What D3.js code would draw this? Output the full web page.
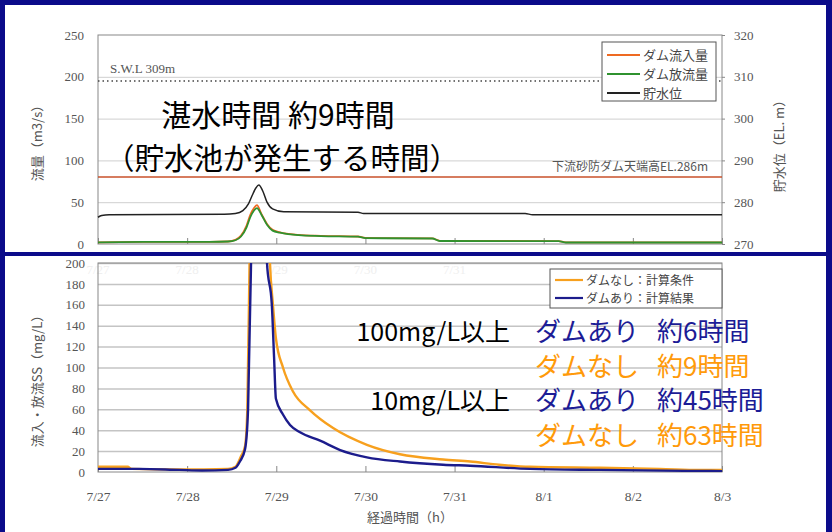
<!DOCTYPE html>
<html>
<head>
<meta charset="utf-8">
<script src="https://cdn.jsdelivr.net/npm/d3@7"></script>
<style>
  body { margin: 0; background: #0b0b8a; }
  svg { display: block; }
</style>
</head>
<body>
<svg width="832" height="532"></svg>
<script>
// x axis: hours from 7/27 0:00
var dayLabels = ["7/27", "7/28", "7/29", "7/30", "7/31", "8/1", "8/2", "8/3"];

// upper chart: dam flows (m3/s) and reservoir level (EL.m)
var flowHours = [0, 12, 30, 35, 37, 38.5, 40, 41, 42, 42.8, 44, 45.5, 47, 49, 54, 60, 70, 72, 90, 92, 124, 126, 168];
var inflow    = [2, 2.5, 2.5, 3, 5, 10, 22, 35, 43, 46.5, 36, 24, 17, 14, 11, 9.8, 9, 7.2, 6.8, 3.8, 3.5, 2, 2];
var outflow   = [2, 2.5, 2.5, 3, 4.5, 9, 20, 32, 40, 43, 35, 23, 16, 13.5, 10.5, 9.5, 8.8, 7, 6.6, 3.6, 3.4, 1.8, 1.8];

var levelHours = [0, 1, 3, 34, 37, 39, 40.5, 41.5, 42.5, 43.3, 44.3, 45.5, 47, 50, 70, 71.5, 115, 117, 168];
var level      = [276.4, 276.8, 277.0, 277.1, 277.3, 278.0, 279.6, 281.6, 283.4, 284.1, 282.8, 280.0, 278.4, 277.7, 277.6, 277.3, 277.3, 277.0, 277.0];

var swl = 309;        // S.W.L
var sabo = 286;       // downstream sabo dam crest

// lower chart: SS (mg/L)
var noDamHours = [0, 8, 9, 22, 35, 37, 38.5, 39.6, 40.2, 40.8, 42, 45, 46.3, 47.1, 47.9, 49.8, 52.5, 57.1, 63.3, 72.4, 81.3, 92.9, 100.2, 108, 116.3, 135.2, 151.3, 162, 168];
var noDamSS    = [5, 5, 3, 2.5, 3, 5, 15, 25, 60, 200, 400, 400, 200, 160, 128, 100, 77, 59, 42, 26, 17, 12, 10, 7, 5, 4, 3, 2, 2];
var damHours   = [0, 11, 22, 28, 35, 37, 38.2, 39.6, 40.4, 41.2, 42, 45, 45.5, 46.8, 47.4, 47.9, 49.8, 51.7, 54.4, 59.8, 65.2, 72.4, 81.3, 92.9, 100.2, 116.3, 135.2, 162, 168];
var damSS      = [3, 3, 2, 1.5, 2, 4, 10, 22, 60, 200, 400, 400, 200, 160, 110, 70, 55, 45, 38, 30, 21, 14, 10, 7, 6, 3, 2, 1, 0.8];

var svg = d3.select("svg");
var jp = "'Noto Sans CJK JP', sans-serif";
var serif = "'Liberation Serif', 'DejaVu Serif', serif";

// white panels on blue frame
svg.append("rect").attr("x", 5).attr("y", 5).attr("width", 821).attr("height", 247).attr("fill", "#fff");
svg.append("rect").attr("x", 5).attr("y", 256).attr("width", 821).attr("height", 276).attr("fill", "#fff");

var x = d3.scaleLinear().domain([0, 168]).range([98, 722]);
var dayTicks = dayLabels.map((d, i) => i * 24);

function pairs(t, v) { return t.map((h, i) => [h, v[i]]); }

function tickText(sel, size) {
  sel.attr("font-family", serif).attr("font-size", size).attr("fill", "#555");
}

// ---------------- upper chart ----------------
var yFlow = d3.scaleLinear().domain([0, 250]).range([244, 35]);
var yLevel = d3.scaleLinear().domain([270, 320]).range([244, 35]);

var topG = svg.append("g");

topG.append("g")
  .attr("transform", "translate(98,0)")
  .call(d3.axisLeft(yFlow).tickValues([50, 100, 150, 200]).tickSize(-624).tickFormat(""))
  .call(g => g.select(".domain").remove())
  .selectAll("line").attr("stroke", "#cfcfcf");

topG.append("g")
  .attr("transform", "translate(92,0)")
  .call(d3.axisLeft(yFlow).tickValues(d3.range(0, 251, 50)).tickSize(0).tickPadding(0))
  .call(g => g.select(".domain").remove())
  .selectAll("text").call(tickText, 13).attr("dx", -8);

topG.append("g")
  .attr("transform", "translate(722,0)")
  .call(d3.axisRight(yLevel).tickValues(d3.range(270, 321, 10)).tickSize(3).tickPadding(9))
  .call(g => g.select(".domain").remove())
  .call(g => g.selectAll("line").attr("stroke", "#888"))
  .selectAll("text").call(tickText, 13);

topG.append("g")
  .attr("transform", "translate(0,244)")
  .call(d3.axisBottom(x).tickValues(dayTicks).tickSize(-6).tickFormat(""))
  .call(g => g.select(".domain").remove())
  .selectAll("line").attr("stroke", "#888");

topG.append("rect").attr("x", 98).attr("y", 35).attr("width", 624).attr("height", 209)
  .attr("fill", "none").attr("stroke", "#888");

// reference lines
topG.append("line").attr("x1", 98).attr("x2", 722)
  .attr("y1", yLevel(swl)).attr("y2", yLevel(swl))
  .attr("stroke", "#444").attr("stroke-width", 1.5).attr("stroke-dasharray", "1.5,3");
topG.append("text").attr("x", 110).attr("y", 73).attr("font-family", serif).attr("font-size", 13)
  .attr("fill", "#555").text("S.W.L 309m");

topG.append("line").attr("x1", 98).attr("x2", 722)
  .attr("y1", yLevel(sabo)).attr("y2", yLevel(sabo))
  .attr("stroke", "#c8502a").attr("stroke-width", 1.5);
topG.append("text").attr("x", 708).attr("y", 171).attr("text-anchor", "end")
  .attr("font-family", jp).attr("font-size", 12).attr("fill", "#555").text("下流砂防ダム天端高EL.286m");

var flowLine = d3.line().x(d => x(d[0])).y(d => yFlow(d[1])).curve(d3.curveMonotoneX);
var levelLine = d3.line().x(d => x(d[0])).y(d => yLevel(d[1])).curve(d3.curveMonotoneX);

topG.append("path").attr("d", levelLine(pairs(levelHours, level)))
  .attr("fill", "none").attr("stroke", "#222").attr("stroke-width", 1.5);
topG.append("path").attr("d", flowLine(pairs(flowHours, inflow)))
  .attr("fill", "none").attr("stroke", "#ee6a22").attr("stroke-width", 1.8);
topG.append("path").attr("d", flowLine(pairs(flowHours, outflow)))
  .attr("fill", "none").attr("stroke", "#2f922f").attr("stroke-width", 1.8);

// axis titles
topG.append("text").attr("transform", "translate(42,140) rotate(-90)").attr("text-anchor", "middle")
  .attr("font-family", jp).attr("font-size", 13).attr("fill", "#555").text("流量（m3/s）");
topG.append("text").attr("transform", "translate(784,143) rotate(-90)").attr("text-anchor", "middle")
  .attr("font-family", jp).attr("font-size", 13).attr("fill", "#555").text("貯水位（EL. m）");

// legend
var legTop = topG.append("g");
legTop.append("rect").attr("x", 602).attr("y", 42).attr("width", 114).attr("height", 59)
  .attr("fill", "#fff").attr("stroke", "#555");
[["ダム流入量", "#ee6a22"], ["ダム放流量", "#2f922f"], ["貯水位", "#222"]].forEach((d, i) => {
  var yy = 55 + i * 19;
  legTop.append("line").attr("x1", 607).attr("x2", 640).attr("y1", yy).attr("y2", yy)
    .attr("stroke", d[1]).attr("stroke-width", 1.8);
  legTop.append("text").attr("x", 643).attr("y", yy + 5).attr("font-family", jp)
    .attr("font-size", 13).attr("fill", "#444").text(d[0]);
});

// annotation
topG.append("text").attr("x", 278).attr("y", 126).attr("text-anchor", "middle")
  .attr("font-family", jp).attr("font-size", 30).attr("fill", "#000").text("湛水時間 約9時間");
topG.append("text").attr("x", 282).attr("y", 169).attr("text-anchor", "middle")
  .attr("font-family", jp).attr("font-size", 29.5).attr("fill", "#000").text("（貯水池が発生する時間）");

// ---------------- lower chart ----------------
var ySS = d3.scaleLinear().domain([0, 200]).range([472, 263]);
var botG = svg.append("g");

// faint labels of the upper chart showing through
botG.append("g").selectAll("text").data(dayLabels.slice(0, 5)).enter().append("text")
  .attr("x", (d, i) => x(i * 24)).attr("y", 274).attr("text-anchor", "middle")
  .attr("font-family", serif).attr("font-size", 13).attr("fill", "#efefef").text(d => d);

botG.append("g")
  .attr("transform", "translate(98,0)")
  .call(d3.axisLeft(ySS).tickValues(d3.range(20, 201, 20)).tickSize(-624).tickFormat(""))
  .call(g => g.select(".domain").remove())
  .selectAll("line").attr("stroke", "#c4c4c4").attr("stroke-width", 1.5);

botG.append("g")
  .attr("transform", "translate(92,0)")
  .call(d3.axisLeft(ySS).tickValues(d3.range(0, 201, 20)).tickSize(0).tickPadding(0))
  .call(g => g.select(".domain").remove())
  .selectAll("text").call(tickText, 13).attr("dx", -7);

botG.append("g")
  .attr("transform", "translate(0,472)")
  .call(d3.axisBottom(x).tickValues(dayTicks).tickSize(-6).tickFormat(""))
  .call(g => g.select(".domain").remove())
  .selectAll("line").attr("stroke", "#888");

botG.append("g")
  .attr("transform", "translate(0,488)")
  .call(d3.axisBottom(x).tickValues(dayTicks).tickSize(0).tickFormat((d, i) => dayLabels[i]))
  .call(g => g.select(".domain").remove())
  .selectAll("text").call(tickText, 13.5);

botG.append("rect").attr("x", 98).attr("y", 263).attr("width", 624).attr("height", 209)
  .attr("fill", "none").attr("stroke", "#888");

botG.append("clipPath").attr("id", "clipSS").append("rect")
  .attr("x", 98).attr("y", 263).attr("width", 624).attr("height", 209);

var ssLine = d3.line().x(d => x(d[0])).y(d => ySS(d[1])).curve(d3.curveMonotoneX);
var ssG = botG.append("g").attr("clip-path", "url(#clipSS)");
ssG.append("path").attr("d", ssLine(pairs(noDamHours, noDamSS)))
  .attr("fill", "none").attr("stroke", "#f7a01e").attr("stroke-width", 2.4);
ssG.append("path").attr("d", ssLine(pairs(damHours, damSS)))
  .attr("fill", "none").attr("stroke", "#1c1c8c").attr("stroke-width", 2.4);

botG.append("text").attr("transform", "translate(42,378) rotate(-90)").attr("text-anchor", "middle")
  .attr("font-family", jp).attr("font-size", 13).attr("fill", "#555").text("流入・放流SS（mg/L）");
botG.append("text").attr("x", 410).attr("y", 522).attr("text-anchor", "middle")
  .attr("font-family", jp).attr("font-size", 13).attr("fill", "#555").text("経過時間（h）");

// legend
var legBot = botG.append("g");
legBot.append("rect").attr("x", 550).attr("y", 269).attr("width", 172).attr("height", 39)
  .attr("fill", "#fff").attr("stroke", "#555");
[["ダムなし：計算条件", "#f7a01e"], ["ダムあり：計算結果", "#1c1c8c"]].forEach((d, i) => {
  var yy = 280 + i * 18;
  legBot.append("line").attr("x1", 555).attr("x2", 583).attr("y1", yy).attr("y2", yy)
    .attr("stroke", d[1]).attr("stroke-width", 2.2);
  legBot.append("text").attr("x", 586).attr("y", yy + 5).attr("font-family", jp)
    .attr("font-size", 12).attr("fill", "#444").text(d[0]);
});

// annotations
var notes = [
  ["100mg/L以上", "ダムあり", "約6時間", "#1c1c96", 341],
  ["", "ダムなし", "約9時間", "#ff9a0a", 376],
  ["10mg/L以上", "ダムあり", "約45時間", "#1c1c96", 410],
  ["", "ダムなし", "約63時間", "#ff9a0a", 445]
];
notes.forEach(n => {
  if (n[0]) botG.append("text").attr("x", 510).attr("y", n[4]).attr("text-anchor", "end")
    .attr("font-family", jp).attr("font-size", 25).attr("fill", "#000").text(n[0]);
  botG.append("text").attr("x", 535).attr("y", n[4]).attr("font-family", jp)
    .attr("font-size", 26).attr("fill", n[3]).text(n[1]);
  botG.append("text").attr("x", 657).attr("y", n[4]).attr("font-family", jp)
    .attr("font-size", 26).attr("fill", n[3]).text(n[2]);
});
</script>
</body>
</html>
